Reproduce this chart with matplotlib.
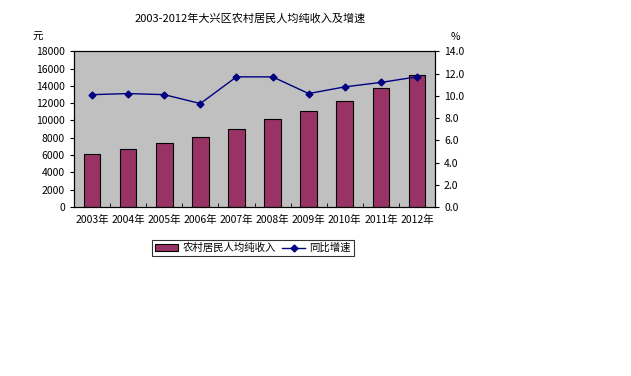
import matplotlib.pyplot as plt
import numpy as np

plt.rcParams['font.family'] = ['Noto Sans CJK SC', 'DejaVu Sans']

# 数据
years = ['2003年', '2004年', '2005年', '2006年', '2007年',
         '2008年', '2009年', '2010年', '2011年', '2012年']
income = [6080, 6660, 7350, 8040, 8960, 10120, 11040, 12310, 13700, 15310]
growth = [10.1, 10.2, 10.1, 9.3, 11.7, 11.7, 10.2, 10.8, 11.2, 11.7]

fig = plt.figure(figsize=(6.31, 3.76), dpi=100)
ax = fig.add_axes([0.1173, 0.4495, 0.5721, 0.4141])
ax.set_facecolor('#C0C0C0')

x = np.arange(len(years))
bars = ax.bar(x, income, width=0.46, color='#993366', edgecolor='black',
              linewidth=0.8, label='农村居民人均纯收入', zorder=2)
ax.set_xlim(-0.5, len(years) - 0.5)
ax.set_ylim(0, 18000)
ax.set_yticks(range(0, 18001, 2000))
ax.set_xticks(x)
ax.set_xticklabels(years)
ax.set_xticks(np.arange(-0.5, len(years), 1), minor=True)
ax.tick_params(axis='x', which='major', length=0, labelsize=7.5, pad=6)
ax.tick_params(axis='x', which='minor', length=3, direction='in')
ax.tick_params(axis='y', labelsize=7.5, length=3, direction='out')
for s in ax.spines.values():
    s.set_linewidth(0.8)

ax2 = ax.twinx()
line, = ax2.plot(x, growth, color='#000080', linewidth=1, marker='D',
                 markersize=3.5, label='同比增速', zorder=3)
ax2.set_ylim(0, 14)
ax2.set_yticks(np.arange(0, 14.1, 2))
ax2.set_yticklabels([f'{v:.1f}' for v in np.arange(0, 14.1, 2)])
ax2.tick_params(axis='y', labelsize=7.5, length=3, direction='out')

fig.text(0.396, 0.951, '2003-2012年大兴区农村居民人均纯收入及增速',
         ha='center', va='center', fontsize=8)
fig.text(0.06, 0.902, '元', ha='center', va='center', fontsize=7.5)
fig.text(0.722, 0.902, '%', ha='center', va='center', fontsize=7.5)

leg = fig.legend([bars, line], ['农村居民人均纯收入', '同比增速'],
                 loc='center', bbox_to_anchor=(0.401, 0.34), ncol=2,
                 fontsize=7.5, frameon=True, fancybox=False,
                 edgecolor='black', handlelength=2.2, columnspacing=0.6,
                 handletextpad=0.4, borderpad=0.3)
leg.get_frame().set_linewidth(0.8)

fig.savefig('out.png', dpi=100)
